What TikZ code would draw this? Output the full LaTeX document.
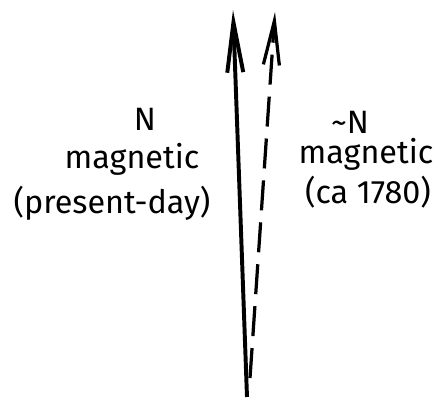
\documentclass[tikz,border=0pt]{standalone}
\usepackage{fontspec}
\setmainfont{Fira Sans}
\usepackage{tikz}
\usetikzlibrary{positioning,arrows.meta}

\begin{document}
\begin{tikzpicture}[
  x=0.025cm, y=-0.025cm,
  lbl/.style={anchor=base, inner sep=0pt, font=\fontsize{23}{26}\selectfont},
  nline/.style={-{Straight Barb[length=12.5mm, width=4mm]}, line width=2.8pt, black},
  oldline/.style={-{Straight Barb[length=11mm, width=4mm]}, line width=2.3pt, black, dash pattern=on 0.75cm off 0.3cm},
]
  \useasboundingbox (0,0) rectangle (440,402);
  % ends of the two needles
  \coordinate (solidbot) at (247,397);
  \coordinate (solidtop) at (233,10);
  \coordinate (dashbot)  at (250,378);
  \coordinate (dashtop)  at (275,12);
  \draw[nline]   (solidbot) -- (solidtop);
  \draw[oldline] (dashbot) -- (dashtop);
  % present-day label
  \node[lbl] (presN)   at (145,130) {N};
  \node[lbl] (presmag) at (132,168) {magnetic};
  \node[lbl] (presday) at (112,213) {(present-day)};
  % ca 1780 label
  \node[lbl] (oldN)    at (350,133) {\textasciitilde N};
  \node[lbl] (oldmag)  at (366,163) {magnetic};
  \node[lbl] (oldyear) at (368,203) {(ca 1780)};
\end{tikzpicture}
\end{document}
